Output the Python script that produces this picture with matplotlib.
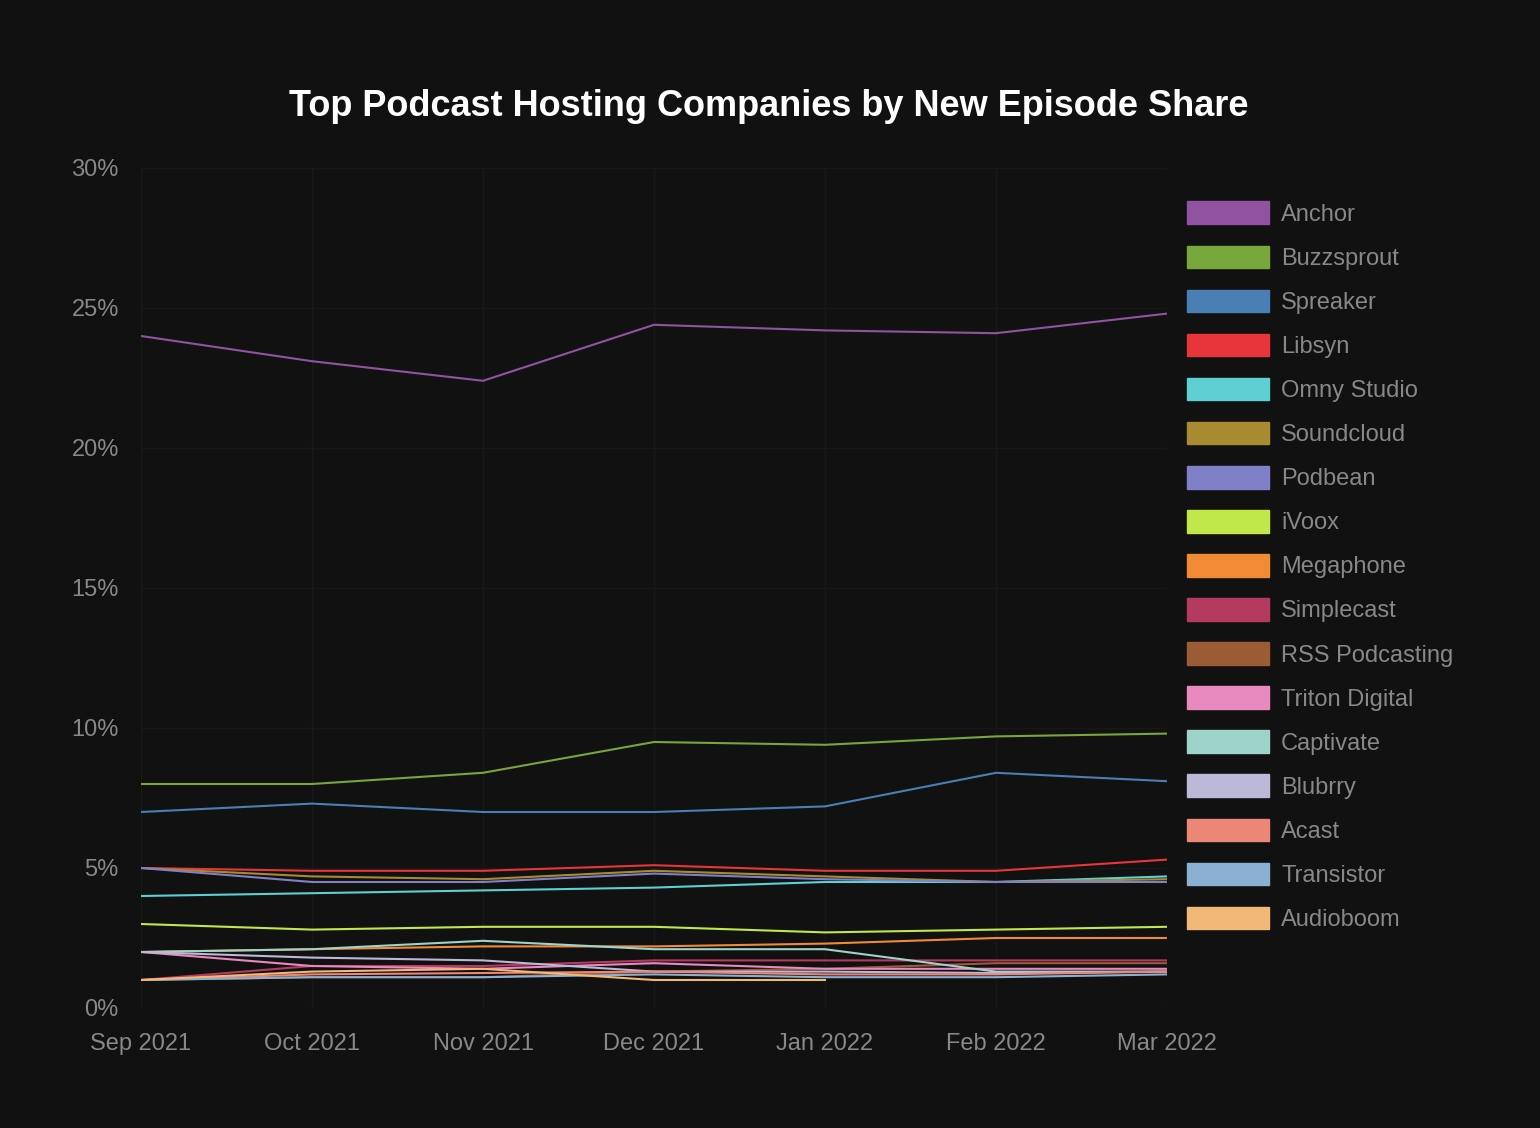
import numpy as np
import matplotlib
matplotlib.use("Agg")
import matplotlib.pyplot as plt
from matplotlib.patches import Patch

months = ["Sep 2021", "Oct 2021", "Nov 2021", "Dec 2021", "Jan 2022", "Feb 2022", "Mar 2022"]

# share of new episodes, percent
anchor = [24.0, 23.1, 22.4, 24.4, 24.2, 24.1, 24.8]
buzzsprout = [8.0, 8.0, 8.4, 9.5, 9.4, 9.7, 9.8]
spreaker = [7.0, 7.3, 7.0, 7.0, 7.2, 8.4, 8.1]
libsyn = [5.0, 4.9, 4.9, 5.1, 4.9, 4.9, 5.3]
omny = [4.0, 4.1, 4.2, 4.3, 4.5, 4.5, 4.7]
soundcloud = [5.0, 4.7, 4.6, 4.9, 4.7, 4.5, 4.6]
podbean = [5.0, 4.5, 4.5, 4.8, 4.6, 4.5, 4.5]
ivoox = [3.0, 2.8, 2.9, 2.9, 2.7, 2.8, 2.9]
megaphone = [2.0, 2.1, 2.2, 2.2, 2.3, 2.5, 2.5]
simplecast = [1.0, 1.5, 1.5, 1.7, 1.7, 1.7, 1.7]
rss = [1.0, 1.1, 1.1, 1.3, 1.4, 1.6, 1.6]
triton = [2.0, 1.5, 1.4, 1.6, 1.4, 1.4, 1.4]
captivate = [2.0, 2.1, 2.4, 2.1, 2.1, 1.3, 1.3]
blubrry = [2.0, 1.8, 1.7, 1.3, 1.3, 1.25, 1.3]
acast = [1.0, 1.2, 1.25, 1.3, 1.2, 1.2, 1.3]
transistor = [1.0, 1.1, 1.1, 1.2, 1.1, 1.1, 1.2]
audioboom = [1.0, 1.3, 1.4, 1.0, 1.0, np.nan, np.nan]

names = ["Anchor", "Buzzsprout", "Spreaker", "Libsyn", "Omny Studio", "Soundcloud",
         "Podbean", "iVoox", "Megaphone", "Simplecast", "RSS Podcasting",
         "Triton Digital", "Captivate", "Blubrry", "Acast", "Transistor", "Audioboom"]
series = [anchor, buzzsprout, spreaker, libsyn, omny, soundcloud, podbean, ivoox,
          megaphone, simplecast, rss, triton, captivate, blubrry, acast, transistor, audioboom]
colors = ["#9152a1", "#77a63a", "#4a7fb5", "#e8353a", "#5ecfd2", "#a88b30",
          "#8080c8", "#c0e84a", "#f08a35", "#b53a5f", "#9b5b34", "#e88abf",
          "#9ed3c9", "#bbb8d8", "#ec8677", "#8ab0d2", "#f2b877"]

plt.rcParams['font.family'] = ['Liberation Sans', 'DejaVu Sans']
bg = "#111111"

fig = plt.figure(figsize=(15.4, 11.28), dpi=100, facecolor=bg)
ax = fig.add_axes([141/1540, 120/1128, 1026/1540, 840/1128], facecolor=bg)

x = np.arange(len(months))
for vals, c in zip(series, colors):
    ax.plot(x, vals, color=c, lw=1.5, solid_joinstyle="round")

ax.set_xlim(0, 6)
ax.set_ylim(0, 30)
ax.set_xticks(x)
ax.set_xticklabels(months)
ax.set_yticks(range(0, 31, 5))
ax.set_yticklabels([f"{v}%" for v in range(0, 31, 5)])
ax.tick_params(colors="#888888", labelsize=17, length=0)
ax.tick_params(axis="x", pad=18)
ax.tick_params(axis="y", pad=16)
ax.grid(True, color="#181818", lw=1)
for s in ax.spines.values():
    s.set_visible(False)

fig.text(769/1540, 1 - 106/1128, "Top Podcast Hosting Companies by New Episode Share",
         ha="center", va="center", color="white", fontsize=26, fontweight="bold")

handles = [Patch(facecolor=c, edgecolor=c) for c in colors]
leg = fig.legend(handles, names, loc="upper left", bbox_to_anchor=(1178/1540, 1 - 192/1128),
                 frameon=False, fontsize=17, labelcolor="#888888", handlelength=3.47,
                 handleheight=1.1, labelspacing=0.835, handletextpad=0.5, borderaxespad=0)

fig.savefig("out.png", dpi=100, facecolor=bg)
